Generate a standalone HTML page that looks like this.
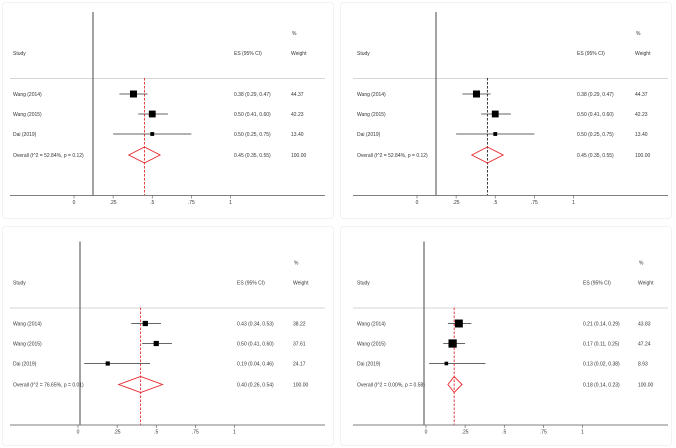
<!DOCTYPE html>
<html><head><meta charset="utf-8"><style>
html,body{margin:0;padding:0;background:#fff;}
svg{display:block;font-family:"Liberation Sans",sans-serif;}
text{font-size:5px;fill:#333;}
</style></head><body>
<svg id="fig" width="676" height="448" viewBox="0 0 676 448"></svg>
<script>
const studies = ["Wang (2014)", "Wang (2015)", "Dai (2019)"];
const studies4 = ["Wang (2014)", "Wang (2015)", "Dai (2019)"];
const est1 = [0.38, 0.50, 0.50], lo1 = [0.29, 0.41, 0.25], hi1 = [0.47, 0.60, 0.75], wt1 = [44.37, 42.23, 13.40];
const est2 = [0.38, 0.50, 0.50], lo2 = [0.29, 0.41, 0.25], hi2 = [0.47, 0.60, 0.75], wt2 = [44.37, 42.23, 13.40];
const est3 = [0.43, 0.50, 0.19], lo3 = [0.34, 0.41, 0.04], hi3 = [0.53, 0.60, 0.46], wt3 = [38.22, 37.61, 24.17];
const est4 = [0.21, 0.17, 0.13], lo4 = [0.14, 0.11, 0.02], hi4 = [0.29, 0.25, 0.38], wt4 = [43.83, 47.24, 8.93];
const overall = [[0.45, 0.35, 0.55], [0.45, 0.35, 0.55], [0.40, 0.26, 0.54], [0.18, 0.14, 0.23]];
const hetero = ["I^2 = 52.84%, p = 0.12", "I^2 = 52.84%, p = 0.12", "I^2 = 76.65%, p = 0.01", "I^2 = 0.00%, p = 0.58"];
const ticks = [0, 0.25, 0.5, 0.75, 1];
const tickLabels = ["0", ".25", ".5", ".75", "1"];

const svg = document.getElementById('fig');
const NS = 'http://www.w3.org/2000/svg';
function mk(tag, attrs, parent) {
  const e = document.createElementNS(NS, tag);
  for (const k in attrs) e.setAttribute(k, attrs[k]);
  (parent || svg).appendChild(e);
  return e;
}
function fmt(v){return v.toFixed(2);}

const layouts = [
  {ox:0, oy:0, x0:74, vline:93, lineL:10, lineR:325, studyX:13, esX:234, wX:291, refColor:'#e8262b', mk:1.05, studyNames:studies},
  {ox:338, oy:0, x0:417, vline:436, lineL:353, lineR:668, studyX:357, esX:577, wX:635, refColor:'#222', mk:1.05, studyNames:studies},
  {ox:0, oy:224, x0:78, vline:80, lineL:10, lineR:325, studyX:13, esX:237, wX:293, refColor:'#e8262b', mk:0.85, studyNames:studies},
  {ox:338, oy:224, x0:426, vline:424, lineL:353, lineR:668, studyX:357, esX:583, wX:638, refColor:'#e8262b', mk:1.2, studyNames:studies4}
];
const ests=[est1,est2,est3,est4], los=[lo1,lo2,lo3,lo4], his=[hi1,hi2,hi3,hi4], wts=[wt1,wt2,wt3,wt4];
const unit = 156.5;

layouts.forEach((L, p) => {
  const g = mk('g', {});
  
  
  const Y = (y) => L.oy + y + (p >= 2 ? 5.5 : 0);
  const xs = (v) => L.x0 + v * unit;
  const frame = mk('rect', {x:L.ox+2.5, y:L.oy+2.5, width:331, height:(p>=2?219:216), rx:3, fill:'none', stroke:'#f0f3f3', 'stroke-width':1}, g);
  
  
  const pct = mk('text', {x:L.wX+1, y:Y(35)}, g); pct.textContent = '%';
   
  const st = mk('text', {x:L.studyX, y:Y(55)}, g); st.textContent = 'Study';
   
  const es = mk('text', {x:L.esX, y:Y(55)}, g); es.textContent = 'ES (95% CI)';
   
  const wh = mk('text', {x:L.wX, y:Y(55)}, g); wh.textContent = 'Weight';
   
  const sep = mk('line', {x1:L.lineL, x2:L.lineR, y1:Y(78.5), y2:Y(78.5), stroke:'#c8c8c8', 'stroke-width':0.8}, g);
   
  const vl = mk('line', {x1:L.vline, x2:L.vline, y1:Y(12), y2:Y(195), stroke:'#666', 'stroke-width':1.2}, g);
   
  const ax = mk('line', {x1:L.lineL, x2:L.lineR, y1:Y(195.5), y2:Y(195.5), stroke:'#555', 'stroke-width':0.8}, g);
   
  ticks.forEach((t, i) => {
    const tk = mk('line', {x1:xs(t), x2:xs(t), y1:Y(195.5), y2:Y(198.5), stroke:'#555', 'stroke-width':0.6}, g);
     
    const tl = mk('text', {x:xs(t), y:Y(204), 'text-anchor':'middle'}, g); tl.textContent = tickLabels[i];
     
  });
  const ov = overall[p];
  const rl = mk('line', {x1:xs(ov[0]), x2:xs(ov[0]), y1:Y(78), y2:Y(195), stroke:L.refColor, 'stroke-width':0.9, 'stroke-dasharray':'2.5,1.5'}, g);
   
  const rowY = [94, 114, 134];
  ests[p].forEach((e, i) => {
    const y = Y(rowY[i]);
    const ci = mk('line', {x1:xs(los[p][i]), x2:xs(his[p][i]), y1:y, y2:y, stroke:'#333', 'stroke-width':0.8}, g);
     
    const s = L.mk * Math.sqrt(wts[p][i]);
    const sq = mk('rect', {x:xs(e)-s/2, y:y-s/2, width:s, height:s, fill:'#000'}, g);
     
    const n = mk('text', {x:L.studyX, y:y+1.8}, g); n.textContent = L.studyNames[i];
     
    const ev = mk('text', {x:L.esX, y:y+1.8}, g); ev.textContent = fmt(e) + ' (' + fmt(los[p][i]) + ', ' + fmt(his[p][i]) + ')';
     
    const wv = mk('text', {x:L.wX, y:y+1.8}, g); wv.textContent = fmt(wts[p][i]);
     
  });
  const oy = Y(155);
  const dm = mk('polygon', {points:[xs(ov[1])+','+oy, xs(ov[0])+','+(oy-8), xs(ov[2])+','+oy, xs(ov[0])+','+(oy+8)].join(' '), fill:'none', stroke:'#e8262b', 'stroke-width':0.9}, g);
   
  const ol = mk('text', {x:L.studyX, y:oy+1.8}, g); ol.textContent = 'Overall  (' + hetero[p] + ')';
   
  const oe = mk('text', {x:L.esX, y:oy+1.8}, g); oe.textContent = fmt(ov[0]) + ' (' + fmt(ov[1]) + ', ' + fmt(ov[2]) + ')';
   
  const ow = mk('text', {x:L.wX, y:oy+1.8}, g); ow.textContent = '100.00';
   
});
</script>
</body></html>
